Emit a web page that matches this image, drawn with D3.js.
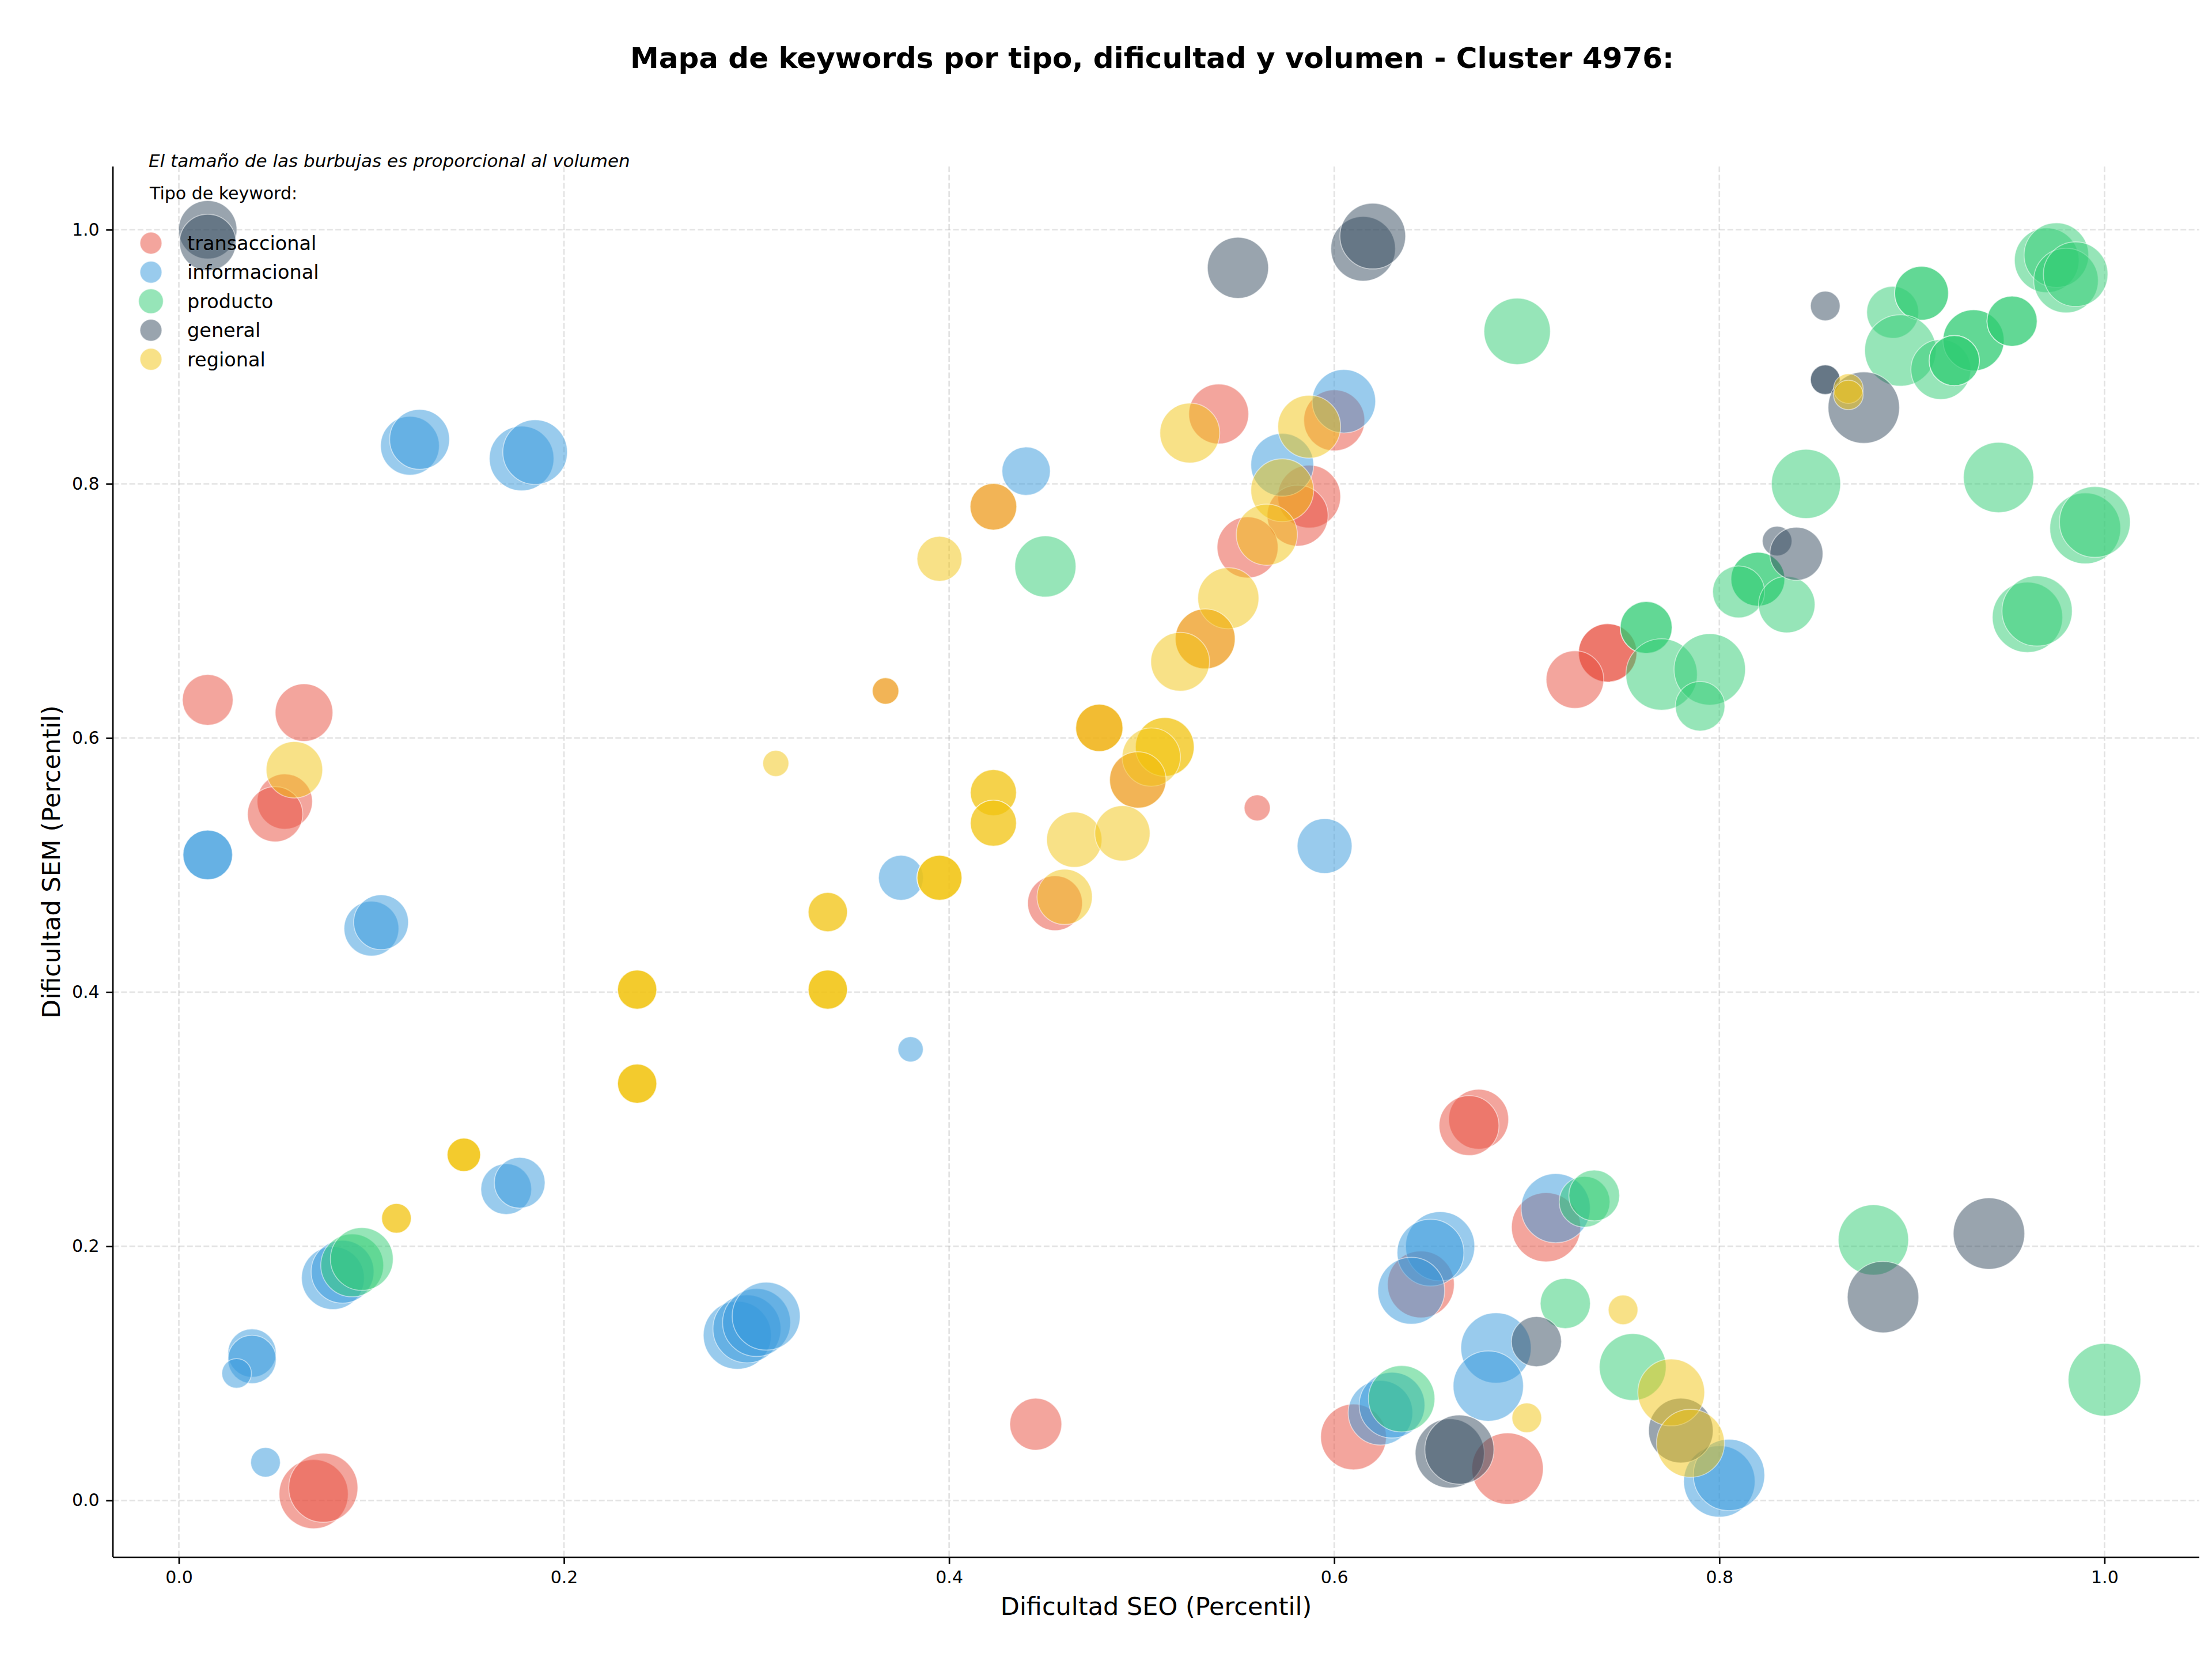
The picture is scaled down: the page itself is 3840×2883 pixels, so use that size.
<!DOCTYPE html>
<html>
<head>
<meta charset="utf-8">
<style>
  body { margin: 0; background: #fff; }
  svg { display: block; font-family: "DejaVu Sans", sans-serif; }
</style>
</head>
<body>
<svg width="3840" height="2883"></svg>
<script src="https://cdn.jsdelivr.net/npm/d3@7"></script>
<script>

// Tipos de keyword y sus colores (orden de dibujo = orden de la leyenda)
var tipos = ["transaccional", "informacional", "producto", "general", "regional"];
var colores = ["#E74C3C", "#3498DB", "#2ECC71", "#34495E", "#F1C40F"];

// [dificultad SEO, dificultad SEM, volumen]
// Keywords repetidas (mismo punto) aparecen varias veces
var transaccional = [
  [0.015, 0.630, 1940], [0.065, 0.620, 2500], [0.055, 0.550, 2300], [0.050, 0.540, 2300],
  [0.070, 0.005, 3600], [0.075, 0.010, 3600],
  [0.540, 0.855, 2700], [0.600, 0.850, 2800], [0.587, 0.790, 2970], [0.581, 0.775, 2800],
  [0.555, 0.750, 2800], [0.533, 0.678, 2700], [0.423, 0.782, 1640], [0.367, 0.637, 530],
  [0.478, 0.608, 1680], [0.498, 0.567, 2400], [0.455, 0.470, 2260], [0.560, 0.545, 510],
  [0.445, 0.060, 2030], [0.675, 0.300, 2700], [0.670, 0.295, 2700], [0.645, 0.170, 3360],
  [0.610, 0.050, 3250], [0.690, 0.025, 3840], [0.710, 0.215, 3600],
  [0.742, 0.667, 2560], [0.742, 0.667, 2560], [0.725, 0.646, 2500]
];

var informacional = [
  [0.120, 0.830, 2600], [0.125, 0.835, 2700], [0.178, 0.820, 3140], [0.185, 0.825, 3140],
  [0.015, 0.508, 1850], [0.015, 0.508, 1850], [0.100, 0.450, 2260], [0.105, 0.455, 2260],
  [0.170, 0.245, 1940], [0.177, 0.250, 1940], [0.080, 0.175, 2970], [0.085, 0.180, 2970],
  [0.038, 0.116, 1760], [0.038, 0.111, 1760], [0.030, 0.100, 660], [0.045, 0.030, 660],
  [0.290, 0.130, 3480], [0.295, 0.135, 3480], [0.300, 0.140, 3480], [0.305, 0.145, 3480],
  [0.440, 0.810, 1760], [0.605, 0.865, 3030], [0.573, 0.815, 2970], [0.595, 0.515, 2260],
  [0.375, 0.490, 1520], [0.380, 0.355, 480],
  [0.655, 0.200, 3600], [0.650, 0.195, 3360], [0.640, 0.165, 3360],
  [0.684, 0.120, 3720], [0.680, 0.090, 3720], [0.624, 0.069, 3140], [0.630, 0.075, 3250],
  [0.715, 0.230, 3600], [0.800, 0.015, 3840], [0.805, 0.020, 3840]
];

var producto = [
  [0.090, 0.185, 2970], [0.095, 0.190, 2970], [0.450, 0.735, 2810], [0.695, 0.920, 3320],
  [0.635, 0.080, 3320], [0.730, 0.235, 1940], [0.735, 0.240, 1940], [0.720, 0.155, 1890],
  [0.755, 0.105, 3360], [0.880, 0.205, 3720], [1.000, 0.095, 3970],
  [0.890, 0.935, 2030], [0.905, 0.950, 2180], [0.905, 0.950, 2180], [0.894, 0.905, 3840],
  [0.915, 0.890, 2700], [0.932, 0.913, 2810], [0.932, 0.913, 2810],
  [0.922, 0.897, 1900], [0.922, 0.897, 1900], [0.952, 0.928, 1900], [0.952, 0.928, 1900],
  [0.970, 0.976, 3140], [0.975, 0.980, 3140], [0.980, 0.960, 3140], [0.985, 0.965, 3140],
  [0.845, 0.800, 3600], [0.945, 0.805, 3720], [0.990, 0.765, 3780], [0.995, 0.770, 3780],
  [0.960, 0.695, 3720], [0.965, 0.700, 3720],
  [0.820, 0.725, 2180], [0.820, 0.725, 2180], [0.810, 0.715, 2030], [0.835, 0.705, 2400],
  [0.762, 0.687, 2030], [0.762, 0.687, 2030], [0.770, 0.650, 3840], [0.795, 0.654, 3840],
  [0.790, 0.625, 1850]
];

var general = [
  [0.015, 1.000, 2560], [0.015, 0.990, 2400], [0.550, 0.970, 2810],
  [0.615, 0.985, 3140], [0.620, 0.995, 3250],
  [0.855, 0.940, 660], [0.855, 0.882, 660], [0.855, 0.882, 660], [0.875, 0.860, 3840],
  [0.830, 0.755, 660], [0.840, 0.745, 2120],
  [0.660, 0.037, 3600], [0.665, 0.040, 3600], [0.705, 0.125, 1890], [0.780, 0.055, 3140],
  [0.885, 0.160, 3840], [0.940, 0.210, 3840]
];

var regional = [
  [0.060, 0.575, 2400], [0.310, 0.580, 510], [0.395, 0.741, 1520],
  [0.525, 0.840, 2700], [0.587, 0.845, 2970], [0.573, 0.795, 2970], [0.565, 0.760, 2810],
  [0.545, 0.710, 2810], [0.533, 0.678, 2700], [0.520, 0.660, 2600],
  [0.423, 0.782, 1640], [0.367, 0.637, 530],
  [0.478, 0.608, 1680], [0.478, 0.608, 1680],
  [0.512, 0.593, 2600], [0.512, 0.593, 2600], [0.505, 0.585, 2560], [0.498, 0.567, 2400],
  [0.423, 0.557, 1600], [0.423, 0.557, 1600], [0.423, 0.533, 1600], [0.423, 0.533, 1600],
  [0.465, 0.520, 2300], [0.490, 0.525, 2300], [0.460, 0.475, 2300],
  [0.395, 0.490, 1520], [0.395, 0.490, 1520], [0.395, 0.490, 1520],
  [0.337, 0.463, 1160], [0.337, 0.463, 1160],
  [0.337, 0.402, 1160], [0.337, 0.402, 1160], [0.337, 0.402, 1160],
  [0.238, 0.402, 1160], [0.238, 0.402, 1160], [0.238, 0.402, 1160],
  [0.238, 0.328, 1160], [0.238, 0.328, 1160], [0.238, 0.328, 1160],
  [0.148, 0.272, 840], [0.148, 0.272, 840], [0.148, 0.272, 840],
  [0.113, 0.222, 660], [0.113, 0.222, 660],
  [0.867, 0.875, 660], [0.867, 0.870, 660], [0.750, 0.150, 660], [0.700, 0.065, 660],
  [0.775, 0.085, 3360], [0.785, 0.045, 3480]
];

var xTicks = [0.0, 0.2, 0.4, 0.6, 0.8, 1.0];
var yTicks = [0.0, 0.2, 0.4, 0.6, 0.8, 1.0];

var titulo = "Mapa de keywords por tipo, dificultad y volumen - Cluster 4976:";
var nota = "El tamaño de las burbujas es proporcional al volumen";

var svg = d3.select("svg");
var m = {left: 196, right: 3818, top: 289, bottom: 2703};

var series = [transaccional, informacional, producto, general, regional];
var todos = d3.merge(series);

// margen del 5% como matplotlib
function pad(e) { var p = (e[1] - e[0]) * 0.05; return [e[0] - p, e[1] + p]; }

var x = d3.scaleLinear().domain(pad(d3.extent(todos, d => d[0]))).range([m.left, m.right]);
var y = d3.scaleLinear().domain(pad(d3.extent(todos, d => d[1]))).range([m.bottom, m.top]);
var r = d3.scaleSqrt().domain([0, 4000]).range([0, 63.2]);

svg.append("rect").attr("width", 3840).attr("height", 2883).attr("fill", "#fff");

// rejilla
var grid = svg.append("g")
    .attr("stroke", "#b0b0b0").attr("stroke-opacity", 0.35)
    .attr("stroke-width", 2.7).attr("stroke-dasharray", "10 4.3");
grid.selectAll(".gx").data(xTicks).join("line")
    .attr("x1", d => x(d)).attr("x2", d => x(d)).attr("y1", m.top).attr("y2", m.bottom);
grid.selectAll(".gy").data(yTicks).join("line")
    .attr("y1", d => y(d)).attr("y2", d => y(d)).attr("x1", m.left).attr("x2", m.right);

// burbujas
tipos.forEach(function(t, i) {
  svg.append("g").selectAll("circle")
    .data(series[i])
    .join("circle")
      .attr("cx", d => x(d[0]))
      .attr("cy", d => y(d[1]))
      .attr("r", d => r(d[2]))
      .attr("fill", colores[i]).attr("fill-opacity", 0.5)
      .attr("stroke", "#fff").attr("stroke-opacity", 0.5).attr("stroke-width", 1.7);
});

// ejes
var gx = svg.append("g").attr("transform", "translate(0," + m.bottom + ")")
    .call(d3.axisBottom(x).tickValues(xTicks).tickFormat(d3.format(".1f"))
      .tickSizeOuter(0).tickSize(11.7).tickPadding(11.7));
var gy = svg.append("g").attr("transform", "translate(" + m.left + ",0)")
    .call(d3.axisLeft(y).tickValues(yTicks).tickFormat(d3.format(".1f"))
      .tickSizeOuter(0).tickSize(11.7).tickPadding(11.7));
[gx, gy].forEach(function(g) {
  g.attr("font-family", "DejaVu Sans").attr("font-size", 30);
  g.selectAll("path, line").attr("stroke", "#000").attr("stroke-width", 2.7);
  g.selectAll("text").attr("fill", "#000");
});
gx.select(".domain").attr("d", "M" + m.left + ",0H" + m.right);
gy.select(".domain").attr("d", "M0," + m.bottom + "V" + m.top);

svg.append("text")
    .attr("x", (m.left + m.right) / 2).attr("y", 2803)
    .attr("text-anchor", "middle").attr("font-size", 43)
    .text("Dificultad SEO (Percentil)");
svg.append("text")
    .attr("transform", "translate(104," + (m.top + m.bottom) / 2 + ") rotate(-90)")
    .attr("text-anchor", "middle").attr("font-size", 43)
    .text("Dificultad SEM (Percentil)");

svg.append("text")
    .attr("x", 2000).attr("y", 118)
    .attr("text-anchor", "middle").attr("font-size", 50).attr("font-weight", "bold")
    .text(titulo);

svg.append("text")
    .attr("x", 258).attr("y", 290)
    .attr("font-size", 31).attr("font-style", "italic")
    .text(nota);

// leyenda
var ley = svg.append("g");
ley.append("text").attr("x", 260).attr("y", 346).attr("font-size", 30).text("Tipo de keyword:");
var fila = ley.selectAll(".fila").data(tipos).join("g")
    .attr("transform", (d, i) => "translate(262," + (422 + i * 50.4) + ")");
fila.append("circle")
    .attr("r", (d, i) => i === 2 ? 21.5 : 19)
    .attr("fill", (d, i) => colores[i]).attr("fill-opacity", 0.5)
    .attr("stroke", "#fff").attr("stroke-opacity", 0.5).attr("stroke-width", 1.7);
fila.append("text")
    .attr("x", 63).attr("y", 12).attr("font-size", 33.5)
    .text(d => d);

</script>
</body>
</html>
